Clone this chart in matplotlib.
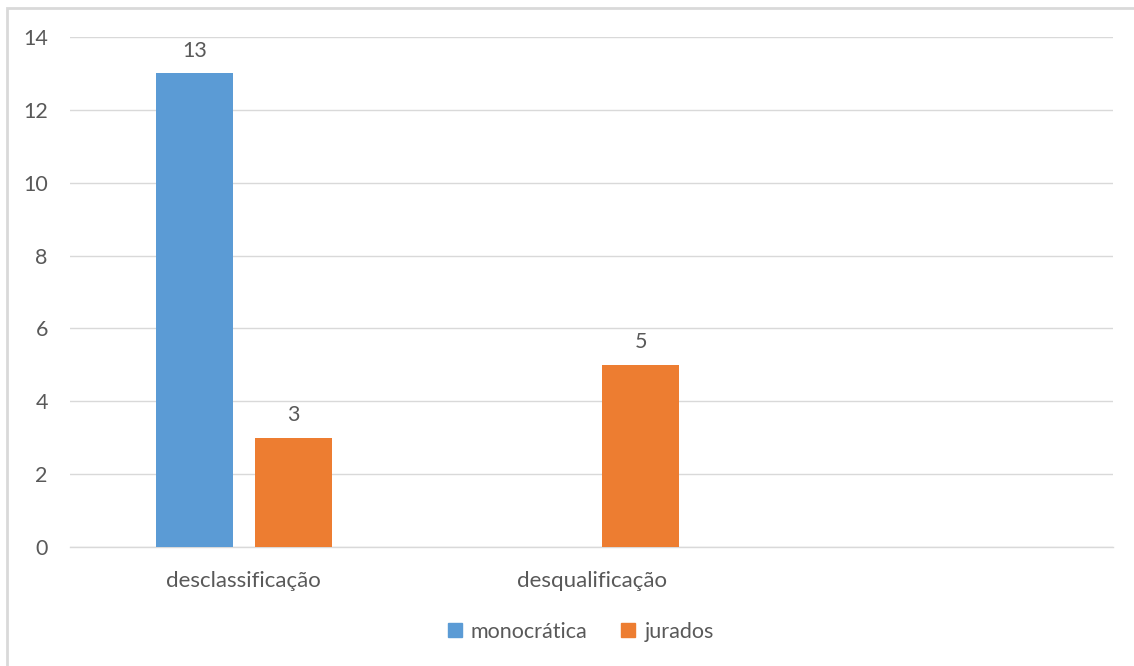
import matplotlib.pyplot as plt
from matplotlib.patches import Rectangle
from matplotlib.lines import Line2D
import numpy as np

categories = ["desclassificação", "desqualificação", ""]
monocratica = [13, 0, 0]
jurados = [3, 5, 0]
series_names = ["monocrática", "jurados"]
colors = ["#5b9bd5", "#ed7d31"]

plt.rcParams['font.family'] = ['Lato', 'DejaVu Sans']
text_color = "#595959"
grid_color = "#d9d9d9"
fs = 15.5

fig = plt.figure(figsize=(11.34, 6.66), dpi=100)
ax = fig.add_axes([70 / 1134, 119 / 666, (1113 - 70) / 1134, (547 - 37) / 666])

x = np.arange(len(categories))
width = 0.222
offset = 0.142

# draw only the bars that have data, with a value label over each
for vals, off, col in [(monocratica, -offset, colors[0]), (jurados, offset, colors[1])]:
    for xi, v in zip(x, vals):
        if v == 0:
            continue
        ax.bar(xi + off, v, width=width, color=col, zorder=3)
        ax.annotate(str(v), (xi + off, v), xytext=(0, 9), textcoords="offset points",
                    ha="center", va="bottom", fontsize=fs, color=text_color)

ax.set_xlim(-0.5, len(categories) - 0.5)
ax.set_ylim(0, 14)
ax.set_yticks(range(0, 15, 2))
ax.set_xticks(x)
ax.set_xticklabels(categories, fontsize=16)
ax.tick_params(axis="both", length=0, labelcolor=text_color)
ax.tick_params(axis="y", labelsize=fs, pad=16)
ax.tick_params(axis="x", pad=17)

ax.grid(axis="y", color=grid_color, linewidth=1, zorder=0)
for side in ["top", "right", "left"]:
    ax.spines[side].set_visible(False)
ax.spines["bottom"].set_color(grid_color)
ax.spines["bottom"].set_linewidth(1)

handles = [Line2D([], [], marker="s", linestyle="none", markersize=10,
                  markerfacecolor=c, markeredgecolor=c) for c in colors]
fig.legend(handles, series_names, loc="center", bbox_to_anchor=(580 / 1134, 1 - 632 / 666),
           ncol=2, frameon=False, fontsize=fs, labelcolor=text_color,
           handletextpad=0.35, columnspacing=1.5, handlelength=0.8)

# outer chart frame
fig.patches.append(Rectangle((7 / 1134, -0.1), 1.2, 1 - 8 / 666 + 0.1,
                             transform=fig.transFigure, fill=False,
                             edgecolor=grid_color, linewidth=2))

fig.savefig("out.png", dpi=100)
